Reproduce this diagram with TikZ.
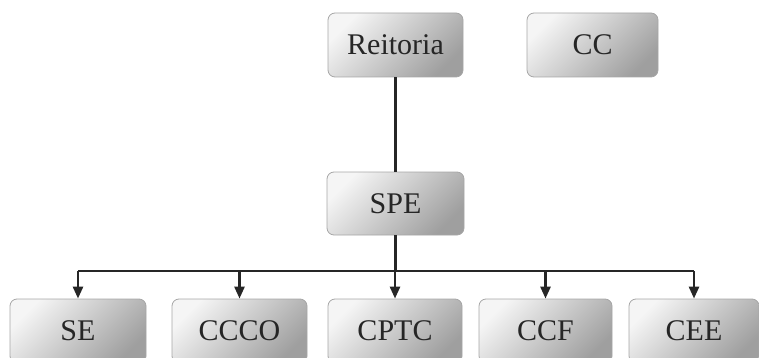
\documentclass[tikz,border=0pt]{standalone}
\usepackage{fontspec}
\setmainfont{Liberation Serif}
\usetikzlibrary{arrows.meta}
\begin{document}
\begin{tikzpicture}[x=1pt,y=-1pt,
  box/.style={draw=gray!70, line width=0.8pt, rounded corners=7pt,
    top color=gray!8, bottom color=gray!75, shading angle=45,
    minimum height=64pt,
    inner sep=0pt, font=\fontsize{30}{32}\selectfont, text=black!85},
  bline/.style={line width=2.6pt, black!85},
  arr/.style={bline, -{Triangle[length=12pt,width=10pt]}}]
\useasboundingbox (0,0) rectangle (759,358);
\clip (0,0) rectangle (759,358);
\node[box, minimum width=135pt] (reitoria) at (395.5,45) {Reitoria};
\node[box, minimum width=131pt] (cc) at (592.5,45) {CC};
\node[box, minimum width=137pt, minimum height=63pt] (spe) at (395.5,203.5) {SPE};
\node[box, minimum width=136pt] (se) at (78,331) {SE};
\node[box, minimum width=135pt] (ccco) at (239.5,331) {CCCO};
\node[box, minimum width=134pt] (cptc) at (395,331) {CPTC};
\node[box, minimum width=133pt] (ccf) at (545.5,331) {CCF};
\node[box, minimum width=130pt] (cee) at (694,331) {CEE};
\coordinate (bus) at (395,271);
\draw[bline] (reitoria.south) -- (spe.north);
\draw[bline] (spe.south) -- (spe.south |- bus);
\draw[bline] (se.north |- bus) -- (cee.north |- bus);
\foreach \n in {se,ccco,cptc,ccf,cee}
  \draw[arr] (\n.north |- bus) -- (\n.north);
\end{tikzpicture}
\end{document}
